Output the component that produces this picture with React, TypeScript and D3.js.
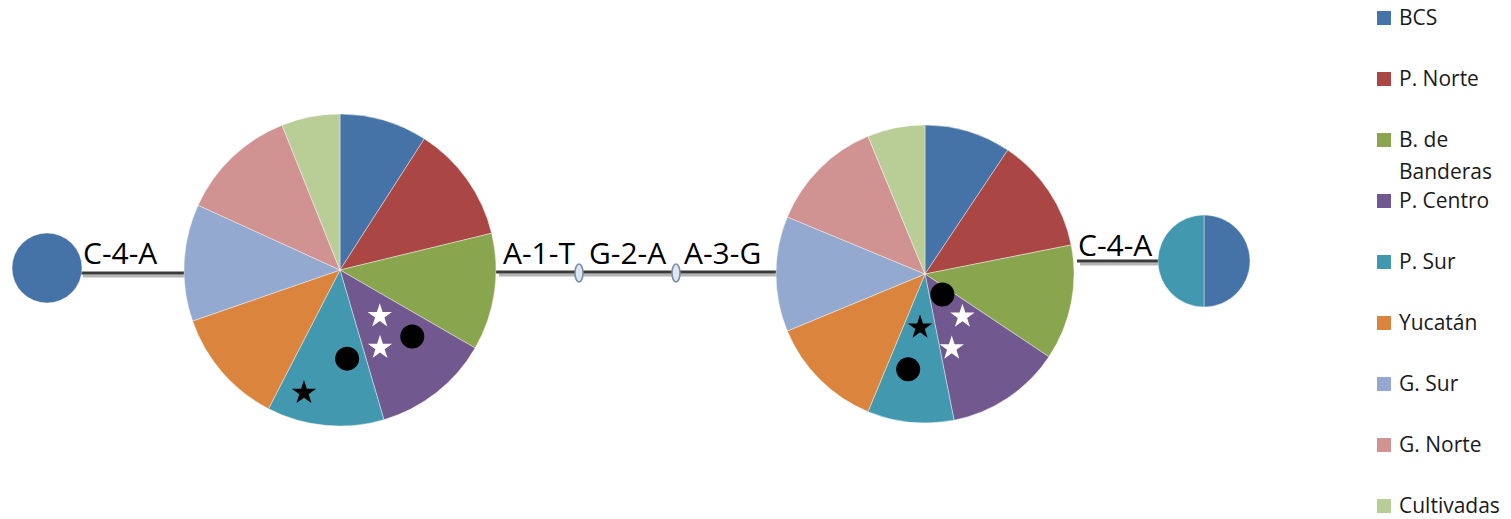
import * as d3 from "d3";
import React from "react";

// populations, in pie order (clockwise from 12 o'clock)
const populations = ["BCS", "P. Norte", "B. de Banderas", "P. Centro", "P. Sur", "Yucatán", "G. Sur", "G. Norte", "Cultivadas"];
const legendLines = [["BCS"], ["P. Norte"], ["B. de", "Banderas"], ["P. Centro"], ["P. Sur"], ["Yucatán"], ["G. Sur"], ["G. Norte"], ["Cultivadas"]];
const colors = ["#4572A7", "#AA4643", "#89A54E", "#71588F", "#4198AF", "#DB843D", "#93A9CF", "#D19392", "#B9CD96"];

// haplotype frequencies per population
const hapLeft = [1, 0, 0, 0, 0, 0, 0, 0, 0];
const hapA = [3, 4, 4, 4, 4, 4, 4, 4, 2];
const hapB = [3, 4, 4, 4, 3, 4, 4, 4, 2];
const hapRight = [1, 0, 0, 0, 1, 0, 0, 0, 0];

// markers: slice index, position within slice (0..1), radial fraction
const markersA = [
  { slice: 3, t: 0.44, r: 0.39, kind: "whiteStar" },
  { slice: 3, t: 0.75, r: 0.56, kind: "whiteStar" },
  { slice: 3, t: 0.29, r: 0.63, kind: "dot" },
  { slice: 4, t: 0.27, r: 0.57, kind: "dot" },
  { slice: 4, t: 0.75, r: 0.82, kind: "blackStar" },
];
const markersB = [
  { slice: 3, t: 0.35, r: 0.18, kind: "dot" },
  { slice: 3, t: 0.33, r: 0.38, kind: "whiteStar" },
  { slice: 3, t: 0.81, r: 0.53, kind: "whiteStar" },
  { slice: 4, t: 0.49, r: 0.36, kind: "blackStar" },
  { slice: 4, t: 0.63, r: 0.65, kind: "dot" },
];

const edgeLeftLabels = ["C-4-A"];
const edgeMidLabels = ["A-1-T", "G-2-A", "A-3-G"];
const edgeRightLabels = ["C-4-A"];

const W = 1511;
const H = 519;
const font = "'Open Sans', 'DejaVu Sans', sans-serif";

type Marker = { slice: number; t: number; r: number; kind: string };

function Pie({ cx, cy, r, values, markers = [] }: { cx: number; cy: number; r: number; values: number[]; markers?: Marker[] }) {
  const arcs = d3.pie<number>().sort(null).value((d) => d)(values);
  const arc = d3.arc<d3.PieArcDatum<number>>().innerRadius(0).outerRadius(r);
  const star = d3.symbol().type(d3.symbolStar).size(185);
  return (
    <g transform={`translate(${cx},${cy})`}>
      {arcs.map((a, i) =>
        a.value > 0 ? (
          <path key={i} d={arc(a) || ""} fill={colors[i]} stroke="#ffffff" strokeOpacity={0.5} strokeWidth={0.8} />
        ) : null
      )}
      {markers.map((m, i) => {
        const a = arcs[m.slice];
        const ang = a.startAngle + (a.endAngle - a.startAngle) * m.t;
        const x = Math.sin(ang) * r * m.r;
        const y = -Math.cos(ang) * r * m.r;
        if (m.kind === "dot") return <circle key={i} cx={x} cy={y} r={12} fill="#000" />;
        return (
          <path key={i} d={star() || ""} transform={`translate(${x},${y})`} fill={m.kind === "whiteStar" ? "#fff" : "#000"} />
        );
      })}
    </g>
  );
}

function Edge({ x1, x2, y }: { x1: number; x2: number; y: number }) {
  return (
    <g>
      <line x1={x1 + 3} x2={x2} y1={y + 3} y2={y + 3} stroke="#b5b5b5" strokeWidth={3} />
      <line x1={x1} x2={x2} y1={y} y2={y} stroke="#3a3a3a" strokeWidth={3} />
    </g>
  );
}

export default function App() {
  const legendY = d3.scalePoint<number>().domain(populations.map((_, i) => i)).range([18, 506]);
  const labelStyle = { fontFamily: font, fontSize: 30, fill: "#000" } as const;
  return (
    <svg width={W} height={H} style={{ position: "absolute", left: 0, top: 0, background: "#fff" }}>
      <Edge x1={80} x2={190} y={273} />
      <Edge x1={496} x2={778} y={272} />
      <Edge x1={1077} x2={1166} y={261} />

      <Pie cx={47} cy={268} r={35} values={hapLeft} />
      <Pie cx={340} cy={270} r={156} values={hapA} markers={markersA} />
      <Pie cx={925} cy={274} r={149} values={hapB} markers={markersB} />
      <Pie cx={1204} cy={261} r={46} values={hapRight} />

      <text x={83} y={264} style={labelStyle}>{edgeLeftLabels[0]}</text>
      {edgeMidLabels.map((t, i) => (
        <text key={t} x={[503, 589, 684][i]} y={264} style={labelStyle}>{t}</text>
      ))}
      <text x={1078} y={256} style={labelStyle}>{edgeRightLabels[0]}</text>

      {[579, 676].map((x) => (
        <ellipse key={x} cx={x} cy={273} rx={4} ry={9} fill="#dde6f1" stroke="#7d8ea8" strokeWidth={1.6} />
      ))}

      {populations.map((p, i) => {
        const y = legendY(i) as number;
        return (
          <g key={p}>
            <rect x={1377} y={y - 7} width={14} height={14} fill={colors[i]} />
            {legendLines[i].map((line, j) => (
              <text key={j} x={1399} y={y + 7 + j * 32} style={{ fontFamily: font, fontSize: 21, fill: "#1a1a1a" }}>{line}</text>
            ))}
          </g>
        );
      })}
    </svg>
  );
}
